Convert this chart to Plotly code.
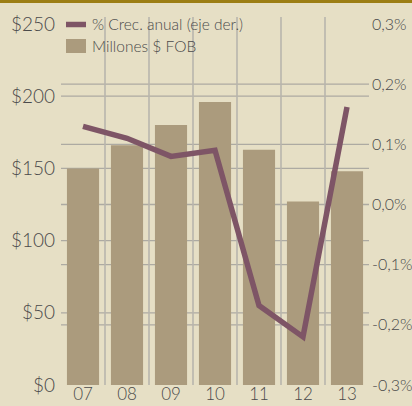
import plotly.graph_objects as go

years = ["07", "08", "09", "10", "11", "12", "13"]
fob_millions = [150, 166, 180, 196, 163, 127, 148]
growth_pct = [0.13, 0.11, 0.08, 0.09, -0.168, -0.22, 0.162]

left_ticks = [0, 50, 100, 150, 200, 250]
left_labels = ["$0", "$50", "$100", "$150", "$200", "$250"]
right_ticks = [-0.3, -0.2, -0.1, 0.0, 0.1, 0.2, 0.3]
right_labels = ["-0,3%", "-0,2%", "-0,1%", "0,0%", "0,1%", "0,2%", "0,3%"]

BG = "#E6DFC5"
BAR = "#AB9B7D"
LINE = "#7E5566"
GRID = "#ADAAA2"
TXT = "#4A4A4A"
FONT = "Lato"
W300 = 300

L, R, T, B = 61, 43, 24, 21
PW, PH = 412 - L - R, 406 - T - B


def px_x(x):
    return (x - L) / PW


def px_y(y):
    return (406 - B - y) / PH


fig = go.Figure()
fig.add_trace(go.Bar(x=years, y=fob_millions, name="Millones $ FOB", showlegend=False,
                     marker=dict(color=BAR, line=dict(width=0)), width=0.73))
fig.add_trace(go.Scatter(x=years, y=growth_pct, name="% Crec. anual (eje der.)",
                         showlegend=False, mode="lines",
                         line=dict(color=LINE, width=5.5), yaxis="y2"))

shapes = []
for v in left_ticks[1:-1]:
    shapes.append(dict(type="line", xref="paper", yref="y", x0=0, x1=1, y0=v, y1=v,
                       line=dict(color=GRID, width=1.3), layer="below"))
for v in right_ticks[1:-1]:
    shapes.append(dict(type="line", xref="paper", yref="y2", x0=0, x1=1, y0=v, y1=v,
                       line=dict(color=GRID, width=1.3), layer="below"))
for i in range(len(years) - 1):
    shapes.append(dict(type="line", xref="x", yref="paper", x0=i + 0.5, x1=i + 0.5,
                       y0=0, y1=px_y(17), line=dict(color="#B8B5AD", width=1.6),
                       layer="below"))
shapes.append(dict(type="rect", xref="paper", yref="paper", x0=-0.3, x1=1.3,
                   y0=px_y(3), y1=px_y(-1), fillcolor="#9C7E14",
                   line=dict(width=0), layer="above"))
# manual legend symbols
shapes.append(dict(type="line", xref="paper", yref="paper", x0=px_x(66), x1=px_x(86),
                   y0=px_y(24.5), y1=px_y(24.5), line=dict(color=LINE, width=5.5),
                   layer="above"))
shapes.append(dict(type="rect", xref="paper", yref="paper", x0=px_x(66), x1=px_x(86),
                   y0=px_y(53), y1=px_y(39), fillcolor=BAR, line=dict(width=0),
                   layer="above"))

legend_font = dict(family=FONT, size=15.5, color=TXT, weight=W300)
annotations = [
    dict(xref="paper", yref="paper", x=px_x(90), y=px_y(24), xanchor="left",
         yanchor="middle", text="% Crec. anual (eje der.)", showarrow=False,
         font=legend_font),
    dict(xref="paper", yref="paper", x=px_x(90), y=px_y(46), xanchor="left",
         yanchor="middle", text="Millones $ FOB", showarrow=False, font=legend_font),
]

tick_font = dict(family=FONT, size=19, color=TXT, weight=W300)
fig.update_layout(
    width=412, height=406,
    margin=dict(l=L, r=R, t=T, b=B, autoexpand=False),
    paper_bgcolor=BG, plot_bgcolor=BG,
    font=dict(family=FONT, color=TXT, size=16, weight=W300),
    showlegend=False,
    bargap=0.27,
    xaxis=dict(type="category", showgrid=False, showline=False, ticks="",
               tickfont=dict(family=FONT, size=17, color=TXT, weight=W300),
               range=[-0.5, 6.5], automargin=False, ticklabelstandoff=-3),
    yaxis=dict(range=[0, 250], tickvals=left_ticks, ticktext=left_labels,
               showgrid=False, zeroline=False, showline=False, ticks="",
               tickfont=tick_font, automargin=False, ticklabelstandoff=5),
    yaxis2=dict(range=[-0.3, 0.3], tickvals=right_ticks, ticktext=right_labels,
                overlaying="y", side="right", showgrid=False, zeroline=False,
                showline=False, ticks="",
                tickfont=dict(family=FONT, size=16, color=TXT, weight=W300),
                automargin=False, ticklabelstandoff=2),
    shapes=shapes,
    annotations=annotations,
)

fig.write_html("out.html",
               config={"displayModeBar": False},
               post_script="document.body.style.margin='0';"
                           "document.body.style.background='" + BG + "';")
